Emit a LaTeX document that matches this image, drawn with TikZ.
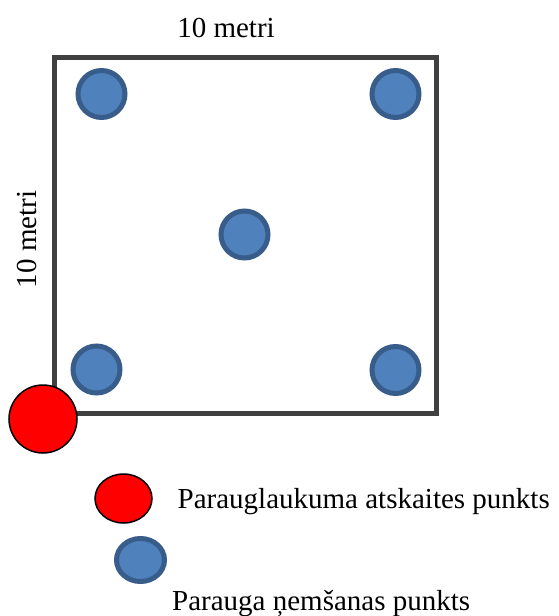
\documentclass[tikz,border=0pt]{standalone}
\usepackage{fontspec}
\setmainfont{Liberation Serif}
\usetikzlibrary{shapes.geometric}
\definecolor{bluefill}{HTML}{4F81BD}
\definecolor{bluedraw}{HTML}{385D8A}
\definecolor{framegray}{HTML}{404040}
\begin{document}
\begin{tikzpicture}[x=1pt,y=-1pt,
  frame/.style={draw=framegray,line width=5pt,rectangle,inner sep=0pt,minimum width=381.5pt,minimum height=356.5pt},
  sample/.style={circle,draw=bluedraw,fill=bluefill,line width=5pt,inner sep=0pt,minimum size=47pt},
  sampleleg/.style={ellipse,draw=bluedraw,fill=bluefill,line width=5pt,inner sep=0pt,minimum width=48pt,minimum height=43pt},
  refpt/.style={circle,draw=black,fill=red,line width=1.5pt,inner sep=0pt,minimum size=68pt},
  refleg/.style={ellipse,draw=black,fill=red,line width=1.5pt,inner sep=0pt,minimum width=57pt,minimum height=49pt},
  lbl/.style={inner sep=0pt,font=\fontsize{29}{34}\selectfont}
]
\useasboundingbox (0,0) rectangle (558,616);
\node[frame] (plot) at (245.25,235.25) {};
\node[sample] (tl) at (101.5,94) {};
\node[sample] (tr) at (395.5,94) {};
\node[sample] (c) at (244.5,234.5) {};
\node[sample] (bl) at (96.5,369.5) {};
\node[sample] (br) at (395.5,370) {};
\node[refpt] (ref) at (43,419) {};
\node[lbl,anchor=base] (top) at (226,37) {10 metri};
\node[lbl,anchor=base,rotate=90] (left) at (36,239.5) {10 metri};
\node[refleg] (legref) at (123.5,498.5) {};
\node[lbl,anchor=base west] (legreftxt) at (177.5,508.5) {Parauglaukuma atskaites punkts};
\node[sampleleg] (legsample) at (140.5,560) {};
\node[lbl,anchor=base west] (legsampletxt) at (172,610) {Parauga ņemšanas punkts};
\end{tikzpicture}
\end{document}
